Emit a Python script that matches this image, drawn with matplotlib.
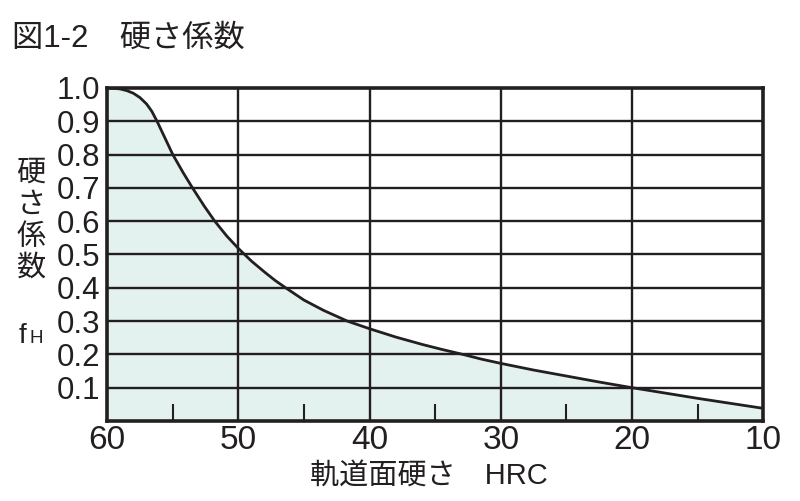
import matplotlib
matplotlib.use("Agg")
import matplotlib.pyplot as plt

plt.rcParams['font.family'] = ['Liberation Sans', 'Noto Sans CJK JP']

# values
hrc = [60, 59.5, 59, 58.5, 58, 57.5, 57, 56.6, 56.2, 55.6, 55, 54.2, 53.5,
       52.6, 51.8, 50.9, 50, 49, 48, 47.2, 46.4, 45, 43.5, 41.7, 40, 38, 36,
       34.5, 32.9, 31.5, 30, 27.5, 25, 22.5, 20, 17.5, 15, 12.5, 10]
fh = [1.0, 0.999, 0.997, 0.992, 0.984, 0.971, 0.952, 0.93, 0.9, 0.85, 0.8,
      0.745, 0.7, 0.645, 0.6, 0.556, 0.518, 0.48, 0.447, 0.422, 0.4, 0.363,
      0.332, 0.3, 0.277, 0.252, 0.23, 0.215, 0.2, 0.186, 0.173, 0.153, 0.135,
      0.117, 0.1, 0.084, 0.068, 0.053, 0.038]

x_ticks = [60, 50, 40, 30, 20, 10]
x_minor = [55, 45, 35, 25, 15]
y_ticks = [0.1, 0.2, 0.3, 0.4, 0.5, 0.6, 0.7, 0.8, 0.9, 1.0]

ink = '#231f20'
fill = '#e3f2ef'

fig = plt.figure(figsize=(8, 5.01), dpi=100)
ax = fig.add_axes([0.134, 0.1597, 0.820, 0.6647])

ax.fill_between(hrc, fh, 0, color=fill, zorder=1)
for y in y_ticks[:-1]:
    ax.axhline(y, color=ink, lw=1.7, zorder=2)
for x in x_ticks[1:-1]:
    ax.axvline(x, color=ink, lw=1.7, zorder=2)
ax.plot(hrc, fh, color=ink, lw=2.0, zorder=3)

ax.set_xlim(60, 10)
ax.set_ylim(0, 1.0)
ax.set_xticks(x_ticks)
ax.set_xticklabels([str(v) for v in x_ticks], fontsize=24)
ax.set_xticks(x_minor, minor=True)
ax.set_yticks(y_ticks)
ax.set_yticklabels([f"{v:.1f}" for v in y_ticks], fontsize=22.5)
ax.tick_params(axis='x', which='major', length=0, pad=3, colors=ink)
ax.tick_params(axis='x', which='minor', direction='in', length=12, width=1.5,
               color=ink)
ax.tick_params(axis='y', length=0, pad=5, colors=ink)
for s in ax.spines.values():
    s.set_linewidth(2.6)
    s.set_color(ink)
    s.set_zorder(4)

fig.text(12 / 800, 1 - 47 / 501, "図1-2　硬さ係数", fontsize=22.5, color=ink,
         ha='left', va='baseline')

for ch, yc in zip("硬さ係数", [173, 205, 237, 268]):
    fig.text(31 / 800, 1 - yc / 501, ch, fontsize=21, color=ink,
             ha='center', va='center')
fig.text(19 / 800, 1 - 343 / 501, "f", fontsize=20, color=ink,
         ha='left', va='baseline')
fig.text(29.5 / 800, 1 - 343 / 501, "H", fontsize=13.5, color=ink,
         ha='left', va='baseline')

fig.text(429 / 800, 1 - 476 / 501, "軌道面硬さ　HRC", fontsize=21, color=ink,
         ha='center', va='center')

fig.savefig("out.png", dpi=100)
plt.close(fig)
